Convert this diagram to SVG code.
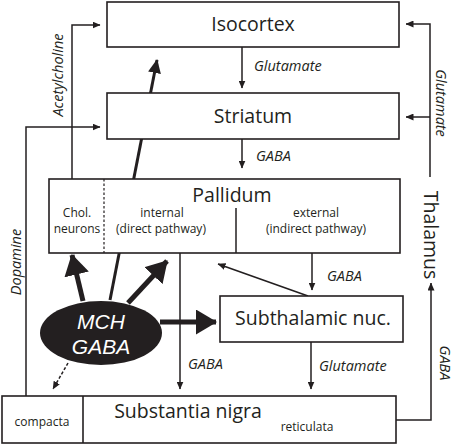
<svg xmlns="http://www.w3.org/2000/svg" width="454" height="446" viewBox="0 0 454 446">
<style>
.box{fill:#fff;stroke:#231f20;stroke-width:1.6}
.t{font-family:"Open Sans","Liberation Sans",sans-serif;fill:#231f20}
.big{font-size:19.5px;text-anchor:middle}
.sm{font-size:12px;text-anchor:middle}
.lb{font-family:"Open Sans","Liberation Sans",sans-serif;font-style:italic;font-size:14.5px;fill:#231f20}
.ln{fill:none;stroke:#231f20;stroke-width:1.5}
.th{fill:none;stroke:#231f20;stroke-width:5}
.mt{font-family:"Liberation Sans",Arial,sans-serif;font-size:21px;font-style:italic;fill:#fff;text-anchor:middle}
</style>
<defs>
<marker id="a" markerUnits="userSpaceOnUse" markerWidth="8" markerHeight="7" refX="7.5" refY="3.5" orient="auto"><path d="M0,0 L8,3.5 L0,7 z" fill="#231f20"/></marker>
<marker id="m" markerUnits="userSpaceOnUse" markerWidth="14" markerHeight="13" refX="13" refY="6.5" orient="auto"><path d="M0,0 L14,6.5 L0,13 z" fill="#231f20"/></marker>
<marker id="b" markerUnits="userSpaceOnUse" markerWidth="21" markerHeight="25" refX="20" refY="12.5" orient="auto"><path d="M0,0 L21,12.5 L0,25 z" fill="#231f20"/></marker>
</defs>
<g id="connectors">
<path class="ln" d="M110,300 L157,60" style="stroke-width:3" marker-end="url(#m)"/>
<path class="ln" d="M242,47 L242,88" marker-end="url(#a)"/>
<path class="ln" d="M242,139 L242,168" marker-end="url(#a)"/>
<path class="ln" d="M312,253 L312,290" marker-end="url(#a)"/>
<path class="ln" d="M308,296 L218,264" marker-end="url(#a)"/>
<path class="ln" d="M311,342 L311,389" marker-end="url(#a)"/>
<path class="ln" d="M180,253 L180,389" marker-end="url(#a)"/>
<path class="ln" d="M72,179 L72,25 L100,25" marker-end="url(#a)"/>
<path class="ln" d="M26,396 L26,127 L100,127" marker-end="url(#a)"/>
<path class="ln" d="M430,177 L430,24 L406,24" marker-end="url(#a)"/>
<path class="ln" d="M430,117 L406,117" marker-end="url(#a)"/>
<path class="ln" d="M396,420 L431,420 L431,283" marker-end="url(#a)"/>
<path class="th" d="M83,301 L72,255" marker-end="url(#b)"/>
<path class="th" d="M128,303 L167,261" marker-end="url(#b)"/>
<path class="th" d="M160,322 L216,322" marker-end="url(#b)"/>
<path class="ln" d="M68,363 L53,389" stroke-dasharray="3,2" marker-end="url(#a)"/>
<text class="lb" x="254" y="71">Glutamate</text>
<text class="lb" x="256" y="161">GABA</text>
<text class="lb" x="327" y="281">GABA</text>
<text class="lb" x="319" y="371">Glutamate</text>
<text class="lb" x="188" y="369">GABA</text>
<text class="lb" transform="translate(63,75) rotate(-90)" text-anchor="middle">Acetylcholine</text>
<text class="lb" transform="translate(21,262) rotate(-90)" text-anchor="middle">Dopamine</text>
<text class="lb" transform="translate(436,103) rotate(90)" text-anchor="middle">Glutamate</text>
<text class="lb" transform="translate(440,363) rotate(90)" text-anchor="middle">GABA</text>
</g>
<g id="isocortex">
<rect class="box" x="107" y="2" width="292" height="45"/>
<text class="t big" x="253" y="31">Isocortex</text>
</g>
<g id="striatum">
<rect class="box" x="107" y="93" width="292" height="46"/>
<text class="t big" x="253" y="123">Striatum</text>
</g>
<g id="pallidum">
<rect class="box" x="49" y="179" width="351" height="74"/>
<line x1="104" y1="179" x2="104" y2="253" stroke="#231f20" stroke-width="1.2" stroke-dasharray="2.5,2"/>
<line x1="236" y1="208" x2="236" y2="253" stroke="#231f20" stroke-width="1.5"/>
<text class="t big" x="232" y="202">Pallidum</text>
<text class="t sm" x="77" y="217">Chol.</text>
<text class="t sm" x="77" y="233">neurons</text>
<text class="t sm" x="162" y="217">internal</text>
<text class="t sm" x="161" y="233">(direct pathway)</text>
<text class="t sm" x="316" y="217">external</text>
<text class="t sm" x="316" y="233">(indirect pathway)</text>
</g>
<g id="thalamus">
<text class="t big" transform="translate(424,235) rotate(90)">Thalamus</text>
</g>
<g id="subthalamic">
<rect class="box" x="220" y="296" width="183" height="46"/>
<text class="t big" x="313" y="325">Subthalamic nuc.</text>
</g>
<g id="substantia-nigra">
<rect class="box" x="2" y="396" width="394" height="47"/>
<line x1="83" y1="396" x2="83" y2="443" stroke="#231f20" stroke-width="1.6"/>
<text class="t sm" x="42" y="426">compacta</text>
<text class="t big" x="188" y="418">Substantia nigra</text>
<text class="t sm" x="307" y="431">reticulata</text>
</g>
<g id="mch">
<ellipse cx="101" cy="333" rx="61" ry="32" fill="#231f20"/>
<text class="mt" x="101" y="329">MCH</text>
<text class="mt" x="101" y="354">GABA</text>
</g>
</svg>
